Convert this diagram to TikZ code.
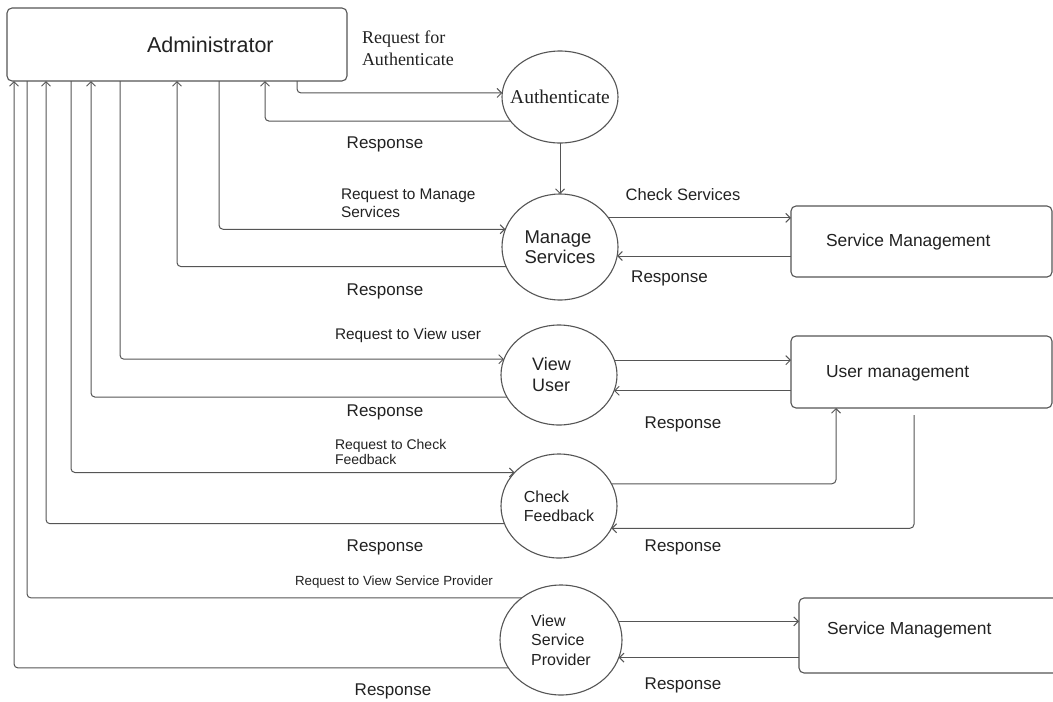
\documentclass[tikz,border=0pt]{standalone}
\usepackage{fontspec}
\setmainfont{Liberation Sans}
\newfontfamily\timesfont{Liberation Serif}
\usetikzlibrary{arrows.meta,shapes.geometric}
\definecolor{lncol}{HTML}{555555}
\definecolor{txcol}{HTML}{222222}
\begin{document}
\begin{tikzpicture}[x=1pt,y=-1pt,
  every node/.style={text=txcol, inner sep=0pt, outer sep=0pt},
  box/.style={draw=lncol, line width=1.1pt, rounded corners=5pt, rectangle},
  proc/.style={draw=lncol, line width=1.1pt, ellipse, align=left},
  arr/.style={draw=lncol, line width=1pt, rounded corners=4pt, -{Straight Barb[length=4.5pt,width=9pt]}},
  plain/.style={draw=lncol, line width=1pt, rounded corners=4pt},
  resp/.style={font=\fontsize{17}{20}\selectfont},
  reqlab/.style={font=\fontsize{15.4}{18}\selectfont, align=left, anchor=west},
  boxtxt/.style={font=\fontsize{17.4}{20}\selectfont, anchor=west}]
\useasboundingbox (0,0) rectangle (1053,702);
\fill[white] (0,0) rectangle (1053,702);

% boxes
\node[box, minimum width=340pt, minimum height=73pt] (admin) at (177,44.5) {};
\node[font=\fontsize{21.5}{24}\selectfont, anchor=west] (admintxt) at ([xshift=140pt]admin.west) {Administrator};
\node[box, minimum width=261pt, minimum height=71pt] (sm1) at (921.5,241.5) {};
\node[boxtxt] (sm1txt) at ([xshift=35pt]sm1.west) {Service Management};
\node[box, minimum width=261pt, minimum height=72pt] (um) at (921.5,372) {};
\node[boxtxt] (umtxt) at ([xshift=35pt,yshift=-1pt]um.west) {User management};
\node[box, minimum width=263pt, minimum height=75pt] (sm2) at (930.5,635.5) {};
\node[boxtxt] (sm2txt) at ([xshift=28pt,yshift=5.5pt]sm2.west) {Service Management};

% processes
\node[proc, minimum width=116pt, minimum height=92pt, inner xsep=-12pt, font=\timesfont\fontsize{19.5}{22}\selectfont] (auth) at (560,97) {Authenticate};
\node[proc, minimum width=116pt, minimum height=106pt, font=\fontsize{18.5}{20}\selectfont] (ms) at (560,247) {Manage\\Services};
\node[proc, minimum width=116pt, minimum height=100pt, font=\fontsize{18}{21}\selectfont] (vu) at (559,375) {View\hspace*{15pt}\\User};
\node[proc, minimum width=116pt, minimum height=104pt, font=\fontsize{16}{19}\selectfont] (cf) at (559,506) {Check\\Feedback};
\node[proc, minimum width=122pt, minimum height=110pt, font=\fontsize{16}{19.5}\selectfont] (vsp) at (561,640) {View\\Service\\Provider};

% admin <-> processes
\draw[arr] ([xshift=290pt]admin.south west) |- (auth.176);
\draw[arr] (auth.206) -| ([xshift=258pt]admin.south west);
\draw[arr] (auth.south) -- (ms.north);
\draw[arr] ([xshift=212pt]admin.south west) |- (ms.162);
\draw[arr] (ms.200) -| ([xshift=170pt]admin.south west);
\draw[arr] ([xshift=113pt]admin.south west) |- (vu.164);
\draw[arr] (vu.203) -| ([xshift=84pt]admin.south west);
\draw[arr] ([xshift=64pt]admin.south west) |- (cf.143.6);
\draw[arr] (cf.198) -| ([xshift=39pt]admin.south west);
\draw[plain] ([xshift=20pt]admin.south west) |- (vsp.133);
\draw[arr] (vsp.208) -| ([xshift=7pt]admin.south west);

% processes <-> stores
\draw[arr] (ms.31) -- (ms.31 -| sm1.west);
\draw[arr] (sm1.west |- ms.351) -- (ms.351);
\draw[arr] (vu.15.2) -- (vu.15.2 -| um.west);
\draw[arr] (um.west |- vu.344.8) -- (vu.344.8);
\draw[arr] (cf.23.9) -| ([xshift=45pt]um.south west);
\coordinate (umout) at ([xshift=123pt,yshift=-7pt]um.south west);
\draw[arr] (umout) |- (cf.337);
\draw[arr] (vsp.18.4) -- (vsp.18.4 -| sm2.west);
\draw[arr] (sm2.west |- vsp.343) -- (vsp.343);

% labels
\node[font=\timesfont\fontsize{18}{22}\selectfont, align=left, anchor=west] (lreqauth) at (362,48.5) {Request for\\Authenticate};
\node[resp] (lr1) at (385,144) {Response};
\node[reqlab] (lreqms) at (341,203) {Request to Manage\\Services};
\node[resp] (lr2) at (385,291) {Response};
\node[reqlab] (lreqvu) at (335,336) {Request to View user};
\node[resp] (lr3) at (385,412) {Response};
\node[reqlab, font=\fontsize{14}{15}\selectfont] (lreqcf) at (335,451.5) {Request to Check\\Feedback};
\node[resp] (lr4) at (385,547) {Response};
\node[anchor=west, font=\fontsize{13.3}{16}\selectfont] (lreqvsp) at (295,582) {Request to View Service Provider};
\node[resp] (lr5) at (393,691) {Response};
\node[font=\fontsize{16.5}{20}\selectfont] (lchk) at (683,195) {Check Services};
\node[resp] (lr6) at (669.5,278) {Response};
\node[resp] (lr7) at (683,424) {Response};
\node[resp] (lr8) at (683,547) {Response};
\node[resp] (lr9) at (683,685) {Response};
\end{tikzpicture}
\end{document}
